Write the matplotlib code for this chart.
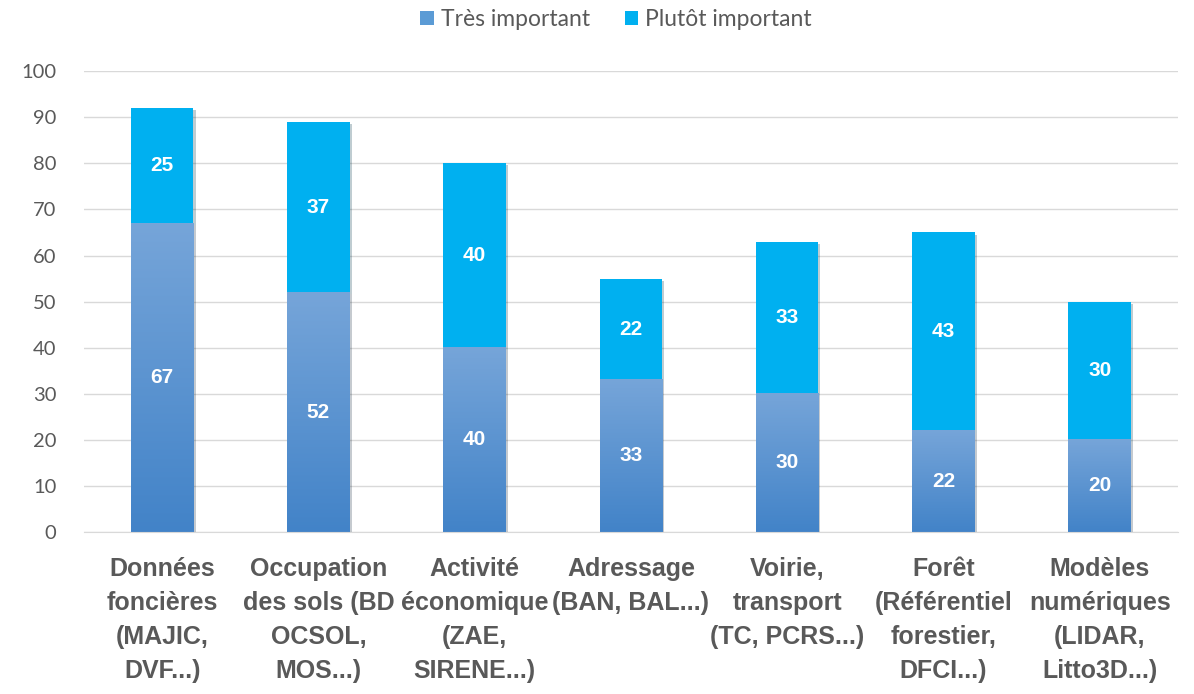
import numpy as np
import matplotlib.pyplot as plt
from matplotlib.colors import LinearSegmentedColormap
from matplotlib.patches import Patch
import matplotlib.patheffects as pe

plt.rcParams['font.family'] = ['Lato', 'DejaVu Sans']
bold_font = ['Liberation Sans', 'DejaVu Sans']

categories = ["Données\nfoncières\n(MAJIC,\nDVF...)",
              "Occupation\ndes sols (BD\nOCSOL,\nMOS...)",
              "Activité\néconomique\n(ZAE,\nSIRENE...)",
              "Adressage\n(BAN, BAL...)",
              "Voirie,\ntransport\n(TC, PCRS...)",
              "Forêt\n(Référentiel\nforestier,\nDFCI...)",
              "Modèles\nnumériques\n(LIDAR,\nLitto3D...)"]
tres = [67, 52, 40, 33, 30, 22, 20]
plutot = [25, 37, 40, 22, 33, 43, 30]

grey = '#595959'
cyan = '#00b0f0'
grad = LinearSegmentedColormap.from_list('g', ['#4283c8', '#76a5d9'])

fig = plt.figure(figsize=(11.94, 6.94), dpi=100)
ax = fig.add_axes([0.0704, 0.2334, 0.916, 0.664])

x = np.arange(len(categories))
w = 0.4
shadow = [pe.SimplePatchShadow(offset=(1.5, -1.5), alpha=0.25), pe.Normal()]

bars1 = ax.bar(x, tres, w, color='#5b9bd5', zorder=3, path_effects=shadow)
bars2 = ax.bar(x, plutot, w, bottom=tres, color=cyan, zorder=3, path_effects=shadow)

# gradient fill for the lower segments
g = np.linspace(0, 1, 256).reshape(-1, 1)
for b in bars1:
    x0, y0 = b.get_x(), b.get_y()
    ax.imshow(g, cmap=grad, origin='lower', aspect='auto', zorder=4,
              extent=[x0, x0 + b.get_width(), y0, y0 + b.get_height()])

for i in range(len(x)):
    ax.text(x[i], tres[i] / 2, str(tres[i]), ha='center', va='center',
            color='white', fontsize=15, fontweight='bold', family=bold_font, zorder=5)
    ax.text(x[i], tres[i] + plutot[i] / 2, str(plutot[i]), ha='center', va='center',
            color='white', fontsize=15, fontweight='bold', family=bold_font, zorder=5)

ax.set_xlim(-0.5, len(x) - 0.5)
ax.set_ylim(0, 100)
ax.set_yticks(range(0, 101, 10))
ax.set_xticks(x)
ax.set_xticklabels(categories, fontsize=18, fontweight='bold', color=grey,
                   linespacing=1.52, family=bold_font)
ax.tick_params(axis='x', length=0, pad=18)
ax.tick_params(axis='y', length=0, pad=20, labelsize=14.5, labelcolor=grey)
ax.grid(axis='y', color='#d9d9d9', lw=1, zorder=0)
for s in ['top', 'right', 'left']:
    ax.spines[s].set_visible(False)
ax.spines['bottom'].set_color('#d9d9d9')
ax.spines['bottom'].set_zorder(6)

handles = [Patch(facecolor='#5b9bd5', label='Très important'),
           Patch(facecolor=cyan, label='Plutôt important')]
fig.legend(handles=handles, loc='center', bbox_to_anchor=(0.516, 0.972), ncol=2,
           frameon=False, fontsize=16.5, labelcolor=grey, handlelength=0.6,
           handleheight=0.6, handletextpad=0.3, columnspacing=1.5)

fig.savefig('out.png', dpi=100)
